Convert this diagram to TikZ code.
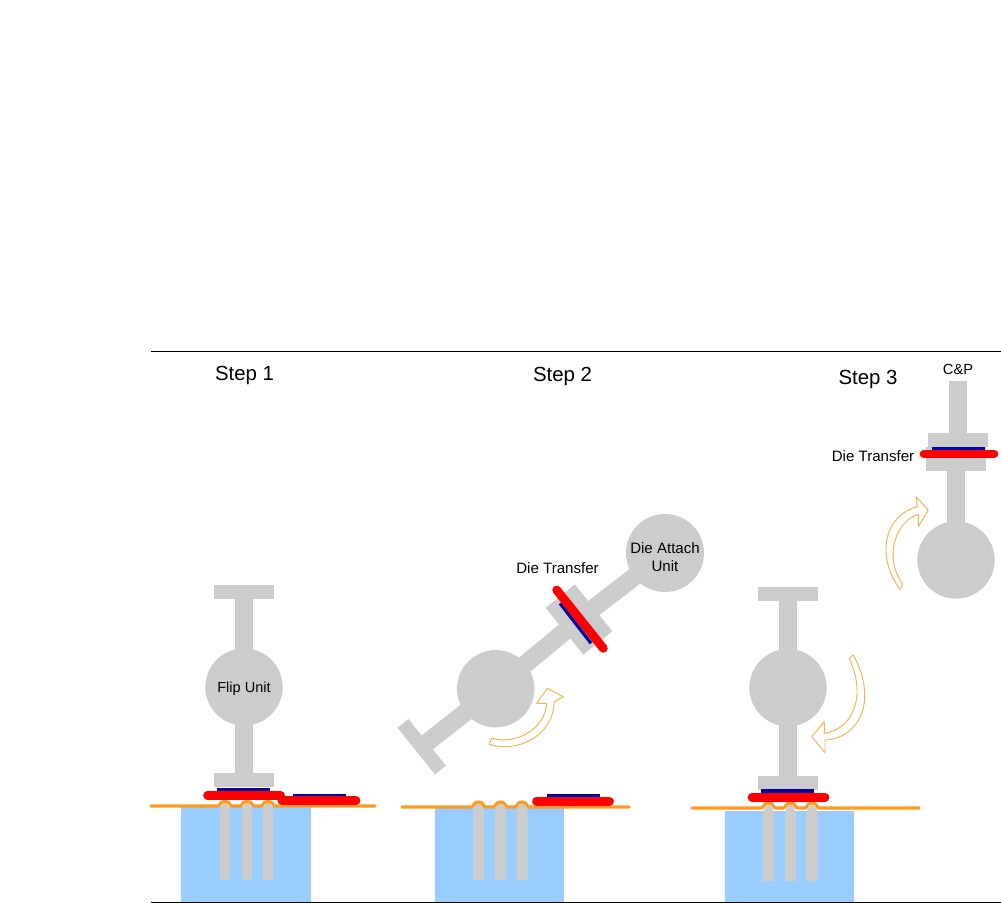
\documentclass[tikz,border=0pt]{standalone}
\usepackage{fontspec}
\setmainfont{Liberation Sans}
\usepackage{xcolor}
\usetikzlibrary{arrows.meta,positioning}
\definecolor{partgrey}{HTML}{CCCCCC}
\definecolor{dieblue}{HTML}{0000A8}
\definecolor{tapeorange}{HTML}{FF9A1A}
\definecolor{chuckblue}{HTML}{99CCFF}
\definecolor{turnorange}{HTML}{F2B24D}
\tikzset{
  hub/.style={circle, fill=partgrey, inner sep=0pt, minimum size=58pt},
  headbar/.style={fill=partgrey, inner sep=0pt, minimum width=45pt, minimum height=10.5pt},
  arm/.style={draw=partgrey, line width=13.5pt},
  chuck/.style={fill=chuckblue},
  pin/.style={fill=partgrey},
  tape/.style={draw=tapeorange, line width=2.3pt, line cap=round},
  wafer/.style={draw=red, line width=6.6pt, line cap=round},
  die/.style={draw=dieblue, line width=2.4pt},
  turn/.style={draw=turnorange, line width=0.7pt, fill=white, line join=round},
  steplbl/.style={font=\fontsize{15.3}{18}\selectfont},
  partlbl/.style={font=\fontsize{11.3}{13}\selectfont, align=center},
}
\begin{document}
\begin{tikzpicture}[x=0.75pt, y=-0.75pt]
  \useasboundingbox (0,0) rectangle (1001,903);
  \coordinate (ruleTopL) at (151,351);
  \coordinate (ruleTopR) at (1001,351);
  \coordinate (ruleBotL) at (151,902);
  \coordinate (ruleBotR) at (1001,902);

  \fill[chuck] (181,807) rectangle (311,902);
  \fill[pin] (220,880) -- (220,815) .. controls (220,808) and (222,803) .. (225,803) .. controls (228,803) and (230,808) .. (230,815) -- (230,880) -- cycle;
  \fill[pin] (242,880) -- (242,815) .. controls (242,808) and (244,803) .. (247,803) .. controls (250,803) and (252,808) .. (252,815) -- (252,880) -- cycle;
  \fill[pin] (263,880) -- (263,815) .. controls (263,808) and (265,803) .. (268,803) .. controls (271,803) and (273,808) .. (273,815) -- (273,880) -- cycle;
  \draw[tape] (151,806) -- (218,806) .. controls (220.5,806) and (219.5,801.5) .. (225,801.5) .. controls (230.5,801.5) and (229.5,806) .. (232,806) -- (240,806) .. controls (242.5,806) and (241.5,801.5) .. (247,801.5) .. controls (252.5,801.5) and (251.5,806) .. (254,806) -- (261,806) .. controls (263.5,806) and (262.5,801.5) .. (268,801.5) .. controls (273.5,801.5) and (272.5,806) .. (275,806) -- (375,806);
  \node[headbar] (flipTop) at (244,592) {};
  \node[headbar] (flipBot) at (244,780) {};
  \node[hub] (flipHub) at (244,687) {};
  \draw[arm] (flipTop.center) -- (flipHub.center);
  \draw[arm] (flipHub.center) -- (flipBot.center);
  \draw[die] (217,789.5) -- (270,789.5);
  \draw[wafer] (207.5,795.3) -- (280.5,795.3);
  \draw[die] (293,795.5) -- (346,795.5);
  \draw[wafer] (282,800.7) -- (356,800.7);
  \node[steplbl] (stepOne) at (244.5,375.5) {Step 1};
  \node[partlbl, font=\fontsize{10.9}{13}\selectfont] (flipLbl) at (244,689) {Flip Unit};

  \fill[chuck] (435,808) rectangle (564,902);
  \fill[pin] (473,880) -- (473,815) .. controls (473,808) and (475.5,803) .. (478.5,803) .. controls (481.5,803) and (484,808) .. (484,815) -- (484,880) -- cycle;
  \fill[pin] (495,880) -- (495,815) .. controls (495,808) and (497.5,803) .. (500.5,803) .. controls (503.5,803) and (506,808) .. (506,815) -- (506,880) -- cycle;
  \fill[pin] (516.5,880) -- (516.5,815) .. controls (516.5,808) and (519,803) .. (522,803) .. controls (525,803) and (527.5,808) .. (527.5,815) -- (527.5,880) -- cycle;
  \draw[tape] (402,807) -- (471.5,807) .. controls (474,807) and (473,802) .. (478.5,802) .. controls (484,802) and (483,807) .. (485.5,807) -- (493.5,807) .. controls (496,807) and (495,802) .. (500.5,802) .. controls (506,802) and (505,807) .. (507.5,807) -- (515,807) .. controls (517.5,807) and (516.5,802) .. (522,802) .. controls (527.5,802) and (526.5,807) .. (529,807) -- (629,807);
  \node[hub] (turnHub) at (495.7,688.7) {};
  \node[hub, minimum size=58.5pt] (attachHub) at (665,553) {};
  \node[headbar, rotate=-51.2] (turnTail) at (421.7,746.7) {};
  \node[headbar, rotate=-51.2, minimum height=28pt] (transferPlate) at (579,619.5) {};
  \draw[arm] (turnTail.center) -- (turnHub.center);
  \draw[arm] (turnHub.center) -- (transferPlate.center);
  \draw[arm] (transferPlate.center) -- (attachHub.center);
  \coordinate (dieA) at (560,603.3);
  \coordinate (dieB) at (591,643.3);
  \coordinate (waferA) at (556.7,590);
  \coordinate (waferB) at (603.3,648.3);
  \draw[die] (dieA) -- (dieB);
  \draw[wafer] (waferA) -- (waferB);
  \draw[die] (547,795.5) -- (600,795.5);
  \draw[wafer] (536.5,801.3) -- (609.5,801.3);
  \draw[turn] (491.7,738.3) .. controls (515,745) and (545,730) .. (546.7,703.3) -- (536.7,703.3) -- (547.3,688.3) -- (563.3,696.7) -- (554.3,701.7) .. controls (553,738) and (515,753) .. (489.3,744.3) -- cycle;
  \node[steplbl] (stepTwo) at (562.5,376.5) {Step 2};
  \node[partlbl] (transferTwo) at (557.5,568) {Die Transfer};
  \node[partlbl] (attachLbl) at (665,557) {Die Attach\\Unit};

  \fill[chuck] (725,811) rectangle (854,902);
  \fill[pin] (763,881) -- (763,816) .. controls (763,810) and (765.5,805) .. (768.5,805) .. controls (771.5,805) and (774,810) .. (774,816) -- (774,881) -- cycle;
  \fill[pin] (785,881) -- (785,816) .. controls (785,810) and (787.5,805) .. (790.5,805) .. controls (793.5,805) and (796,810) .. (796,816) -- (796,881) -- cycle;
  \fill[pin] (806,881) -- (806,816) .. controls (806,810) and (809,805) .. (812,805) .. controls (815,805) and (818,810) .. (818,816) -- (818,881) -- cycle;
  \draw[tape] (692,808) -- (761.5,808) .. controls (764,808) and (763,803) .. (768.5,803) .. controls (774,803) and (773,808) .. (775.5,808) -- (783.5,808) .. controls (786,808) and (785,803) .. (790.5,803) .. controls (796,803) and (795,808) .. (797.5,808) -- (805,808) .. controls (807.5,808) and (806.5,803) .. (812,803) .. controls (817.5,803) and (816.5,808) .. (819,808) -- (919,808);
  \node[headbar] (lowerTop) at (788,593.5) {};
  \node[headbar] (lowerBot) at (788,782.5) {};
  \node[hub] (lowerHub) at (788,687.7) {};
  \draw[arm] (lowerTop.center) -- (lowerHub.center);
  \draw[arm] (lowerHub.center) -- (lowerBot.center);
  \draw[die] (761,791) -- (814,791);
  \draw[wafer] (752,797.3) -- (825,797.3);
  \draw[turn] (849.3,658.3) .. controls (868,700) and (850,730) .. (824.3,733.3) -- (824.3,721.7) -- (811.7,736.7) -- (825,752.7) -- (825,740) .. controls (860,738) and (878,700) .. (853.3,655) -- cycle;

  \node[headbar] (pickTopPlate) at (958,440) {};
  \node[headbar, minimum height=18pt] (pickBotPlate) at (956,459) {};
  \node[hub] (pickHub) at (956,560) {};
  \coordinate (pickTop) at (958,381);
  \draw[arm] (pickTop) -- (pickTopPlate.center);
  \draw[arm] (pickBotPlate.center) -- (pickHub.center);
  \draw[die] (931.7,448.5) -- (985,448.5);
  \draw[wafer] (924,454) -- (994,454);
  \draw[turn] (917.3,506.7) -- (916,496.7) -- (928.3,510) -- (918.3,526.7) -- (918.3,514.3) .. controls (898,520) and (882,555) .. (902.7,584.3) -- (900,589.3) .. controls (875,555) and (885,515) .. (917.3,506.7) -- cycle;
  \node[steplbl] (stepThree) at (868,379) {Step 3};
  \node[partlbl, font=\fontsize{11}{13}\selectfont] (pickLbl) at (958,369) {C\&P};
  \node[partlbl] (transferThree) at (873,456) {Die Transfer};

  \draw[line width=0.7pt] (ruleTopL) -- (ruleTopR);
  \draw[line width=0.7pt] (ruleBotL) -- (ruleBotR);
\end{tikzpicture}
\end{document}
